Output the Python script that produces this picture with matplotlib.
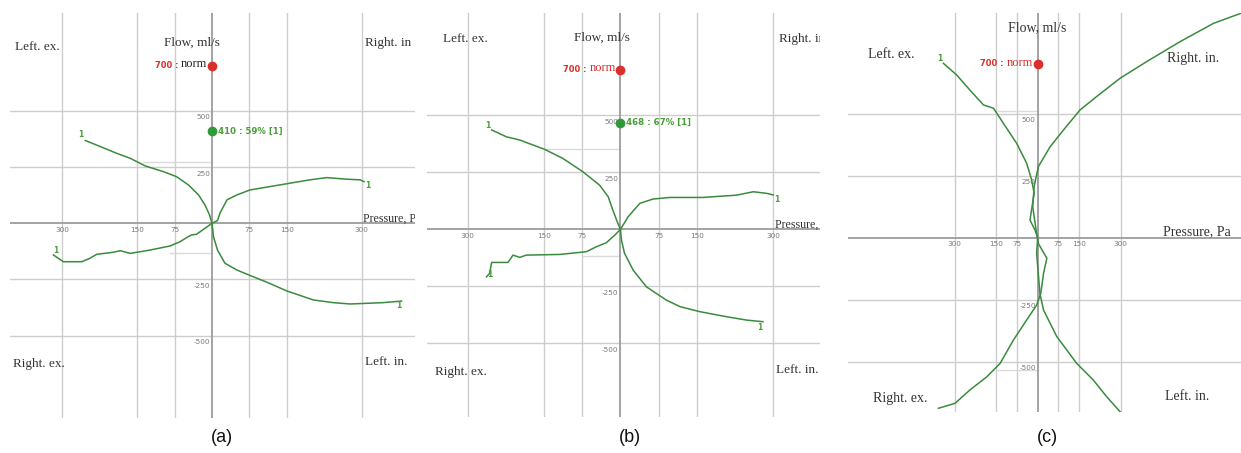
import matplotlib
matplotlib.use("Agg")
import matplotlib.pyplot as plt

# grid ticks shared by all three panels (pressure in Pa, flow in ml/s)
x_ticks = [-300, -150, -75, 75, 150, 300]
y_ticks = [-500, -250, 250, 500]
norm_flow = 700

# panel (a)
a_c1_p = [-254, -224, -191, -164, -134, -98, -71, -47, -27, -14, -5, 0, 3, 11, 26, 50, 76, 110, 150, 203, 243, 277, 310, 343, 380]
a_c1_f = [368, 341, 311, 289, 255, 230, 207, 170, 126, 81, 37, 0, -60, -119, -178, -208, -232, -262, -301, -341, -353, -359, -356, -353, -346]
a_c2_p = [-318, -308, -298, -261, -245, -231, -198, -184, -164, -124, -84, -64, -48, -41, -31, -17, 0, 11, 16, 30, 50, 76, 116, 156, 196, 230, 270, 297, 305]
a_c2_f = [-141, -156, -171, -171, -156, -138, -129, -122, -134, -119, -101, -82, -60, -52, -49, -27, 0, 12, 45, 104, 126, 148, 163, 178, 193, 203, 196, 193, 185]
a_flow = 410
a_flow_label = "410 : 59% [1]"
a_ref_lines = [(-138, 274), (-84, -132)]

# panel (b)
b_c1_p = [-253, -224, -198, -149, -113, -74, -41, -24, -15, -5, 0, 2, 8, 25, 51, 90, 117, 156, 208, 248, 280]
b_c1_f = [436, 406, 392, 351, 311, 253, 194, 143, 85, 26, 0, -47, -105, -179, -252, -310, -339, -361, -383, -398, -405]
b_c2_p = [-263, -257, -253, -221, -211, -198, -185, -119, -67, -47, -28, -11, 0, 15, 38, 64, 97, 162, 228, 261, 287, 300]
b_c2_f = [-208, -193, -145, -145, -113, -123, -113, -110, -98, -76, -59, -25, 0, 55, 114, 133, 140, 140, 150, 165, 158, 151]
b_flow = 468
b_flow_label = "468 : 67% [1]"
b_ref_lines = [(-149, 352), (-74, -117)]

# panel (c)
c_c1_p = [-341, -293, -245, -196, -160, -124, -76, -40, -22, -13, -28, -10, 0, -4, 2, 8, 21, 69, 141, 201, 249, 298]
c_c1_f = [703, 656, 595, 535, 522, 461, 380, 300, 233, 179, 71, 31, 0, -63, -144, -225, -292, -399, -507, -574, -641, -702]
c_c2_p = [-359, -299, -245, -184, -136, -88, -40, -4, 11, 21, 33, 2, -6, -18, -13, 2, 45, 93, 153, 213, 298, 394, 514, 635, 735]
c_c2_f = [-688, -668, -614, -561, -507, -413, -332, -272, -225, -144, -83, -23, 31, 125, 206, 286, 367, 434, 515, 569, 643, 710, 790, 864, 905]
c_ref_lines = [(-148, 511), (-148, -533)]

GREEN = "#3b8a3e"
LABEL_GREEN = "#4a9e3a"
RED = "#d8312d"
GRID = "#cdcdcd"
AXIS = "#9c9c9c"
TICK = "#7a7a7a"
SERIF = "Liberation Serif"

W, H = 1241, 453
fig = plt.figure(figsize=(W / 100, H / 100), dpi=100)


def add_panel(box, xlim, ylim):
    x0, y0, x1, y1 = box
    ax = fig.add_axes([x0 / W, 1 - y1 / H, (x1 - x0) / W, (y1 - y0) / H])
    ax.set_xlim(*xlim)
    ax.set_ylim(*ylim)
    ax.set_axis_off()
    for x in x_ticks:
        ax.axvline(x, color=GRID, lw=1.0, zorder=1)
        ax.annotate(str(abs(x)), (x, 0), xytext=(0, -2.5), textcoords="offset points",
                    ha="center", va="top", fontsize=5.2, color=TICK, zorder=2)
    for y in y_ticks:
        ax.axhline(y, color=GRID, lw=1.0, zorder=1)
        ax.annotate(str(y), (0, y), xytext=(-1.5, -2.5), textcoords="offset points",
                    ha="right", va="top", fontsize=5.2, color=TICK, zorder=2)
    ax.axhline(0, color=AXIS, lw=1.3, zorder=2)
    ax.axvline(0, color=AXIS, lw=1.3, zorder=2)
    return ax


def ref_lines(ax, lines):
    for p, f in lines:
        ax.plot([p, 0], [f, f], color="#dadada", lw=1.0, zorder=1.5)


def curve(ax, p, f, start_off=None, end_off=None):
    ax.plot(p, f, color=GREEN, lw=1.1, zorder=3)
    for idx, off in ((0, start_off), (-1, end_off)):
        if off is not None:
            ax.annotate("1", (p[idx], f[idx]), xytext=off, textcoords="offset points",
                        ha="center", va="center", fontsize=5.5, fontweight="bold",
                        color=LABEL_GREEN, zorder=4)


def norm_marker(ax, norm_color):
    ax.plot([0], [norm_flow], "o", color=RED, ms=6, zorder=5)
    t = ax.annotate("norm", (0, norm_flow), xytext=(-3.5, 1), textcoords="offset points",
                    ha="right", va="center", fontsize=9, family=SERIF, color=norm_color, zorder=5)
    ax.annotate("700 : ", (0, 0.42), xycoords=t, ha="right", va="center",
                fontsize=6, fontweight="bold", color=RED, zorder=5)


def flow_marker(ax, flow, label):
    ax.plot([0], [flow], "o", color="#2f9a3a", ms=6, zorder=5)
    ax.annotate(label, (0, flow), xytext=(4, 0), textcoords="offset points",
                ha="left", va="center", fontsize=6.2, fontweight="bold",
                color=LABEL_GREEN, zorder=5)


def quad_text(ax, labels, size):
    for text, x, y, ha in labels:
        ax.text(x, y, text, transform=ax.transAxes, ha=ha, va="center",
                fontsize=size, family=SERIF, color="#333333", clip_on=True, zorder=6)


def pressure_text(ax, x, size, lift):
    t = ax.annotate("Pressure, Pa", (x, 0), xycoords=("axes fraction", "data"),
                    xytext=(0, lift), textcoords="offset points", ha="left", va="baseline",
                    fontsize=size, family=SERIF, color="#333333", zorder=6)
    t.set_clip_box(ax.bbox)
    t.set_clip_on(True)


# (a)
ax = add_panel((10, 13, 415, 418), (-405, 407), (-866, 935))
ref_lines(ax, a_ref_lines)
curve(ax, a_c1_p, a_c1_f, start_off=(-3.5, 4.5), end_off=(-2, -3.5))
curve(ax, a_c2_p, a_c2_f, start_off=(2, 3), end_off=(2.5, -2.5))
norm_marker(ax, "#222222")
flow_marker(ax, a_flow, a_flow_label)
quad_text(ax, [("Left. ex.", 0.012, 0.916, "left"), ("Flow, ml/s", 0.449, 0.926, "center"),
               ("Right. in", 0.877, 0.926, "left"),
               ("Right. ex.", 0.007, 0.133, "left"), ("Left. in.", 0.877, 0.138, "left")], 9.5)
pressure_text(ax, 0.872, 8.6, 1)

# (b)
ax = add_panel((427, 13, 820, 417), (-380, 392), (-823, 949))
ref_lines(ax, b_ref_lines)
curve(ax, b_c1_p, b_c1_f, start_off=(-3, 3.5), end_off=(-2.5, -4))
curve(ax, b_c2_p, b_c2_f, start_off=(2, 2), end_off=(2.5, -3.5))
norm_marker(ax, RED)
flow_marker(ax, b_flow, b_flow_label)
quad_text(ax, [("Left. ex.", 0.04, 0.935, "left"), ("Flow, ml/s", 0.444, 0.939, "center"),
               ("Right. in.", 0.896, 0.936, "left"),
               ("Right. ex.", 0.02, 0.112, "left"), ("Left. in.", 0.888, 0.116, "left")], 9.5)
pressure_text(ax, 0.885, 8.6, 1)

# (c)
ax = add_panel((848, 13, 1241, 412), (-686, 735), (-703, 906))
ref_lines(ax, c_ref_lines)
curve(ax, c_c1_p, c_c1_f, start_off=(-2.5, 3.5))
curve(ax, c_c2_p, c_c2_f)
norm_marker(ax, RED)
quad_text(ax, [("Left. ex.", 0.052, 0.895, "left"), ("Flow, ml/s", 0.481, 0.962, "center"),
               ("Right. in.", 0.812, 0.886, "left"),
               ("Right. ex.", 0.064, 0.035, "left"), ("Left. in.", 0.807, 0.038, "left")], 10)
pressure_text(ax, 0.802, 10, 2)

for label, x in (("(a)", 222), ("(b)", 630), ("(c)", 1047)):
    fig.text(x / W, 1 - 437 / H, label, ha="center", va="center",
             fontsize=13, family="Liberation Sans", color="#111111")

fig.savefig("out.png", dpi=100)
